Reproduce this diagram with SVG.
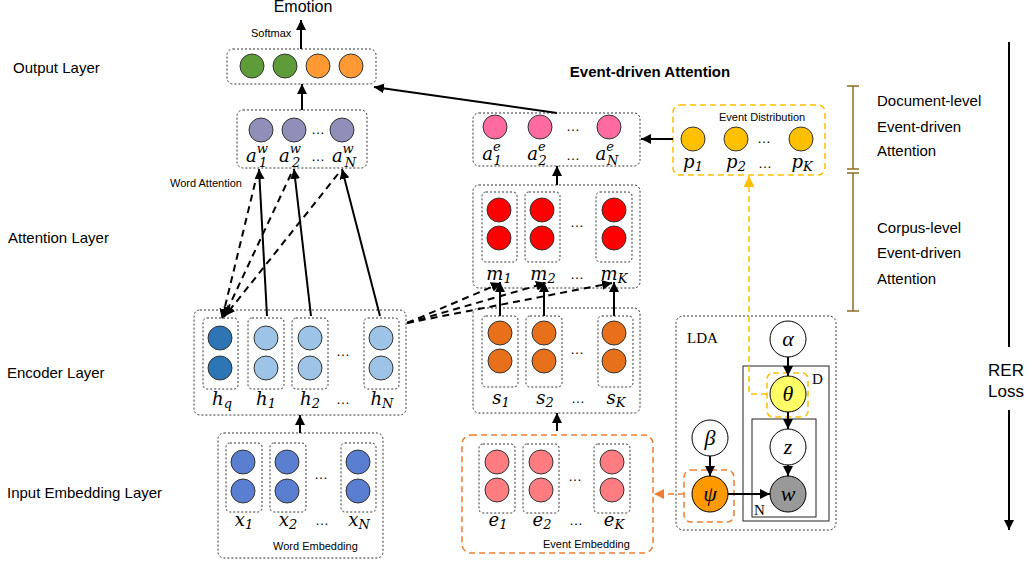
<svg xmlns="http://www.w3.org/2000/svg" width="1032" height="564" viewBox="0 0 1032 564">
<defs>
<style>
.bx{fill:none;stroke:#333;stroke-width:1;stroke-dasharray:2,2}
.c{stroke:#333;stroke-width:1}
.lda{stroke:#000;stroke-width:1}
.ln{stroke:#000;stroke-width:2;fill:none}
.dl{stroke:#000;stroke-width:2;fill:none;stroke-dasharray:7,5}
.sans{font-family:"Liberation Sans",Arial,sans-serif;fill:#000}
.m{font-family:"DejaVu Serif","Liberation Serif",serif;font-style:italic;font-size:18px;fill:#000}
.s{font-size:13px}
.g{font-family:"Liberation Serif","DejaVu Serif",serif;font-style:italic;font-size:22px;fill:#000}
.dots{font-family:"Liberation Sans",Arial,sans-serif;font-size:14px;fill:#000}
.ydash{fill:none;stroke:#FFC000;stroke-width:1.5;stroke-dasharray:6,4}
.odash{fill:none;stroke:#ED7D31;stroke-width:1.5;stroke-dasharray:6,4}
.brk{stroke:#8C6D1F;stroke-width:1.5;fill:none}
</style>
<marker id="ah" viewBox="0 0 10 10" refX="10" refY="5" markerWidth="10" markerHeight="10" markerUnits="userSpaceOnUse" orient="auto"><path d="M0,0 L10,5 L0,10 z" fill="#000"/></marker>
<marker id="ahy" viewBox="0 0 10 10" refX="10" refY="5" markerWidth="11" markerHeight="11" markerUnits="userSpaceOnUse" orient="auto"><path d="M0,0 L10,5 L0,10 z" fill="#FFC000"/></marker>
<marker id="aho" viewBox="0 0 10 10" refX="10" refY="5" markerWidth="10" markerHeight="10" markerUnits="userSpaceOnUse" orient="auto"><path d="M0,0 L10,5 L0,10 z" fill="#ED7D31"/></marker>
</defs>
<rect width="1032" height="564" fill="#fff"/>

<g id="layer-labels" class="sans" font-size="15">
<text x="13" y="73">Output Layer</text>
<text x="8" y="243">Attention Layer</text>
<text x="7" y="378">Encoder Layer</text>
<text x="7" y="498">Input Embedding Layer</text>
</g>

<g id="emotion">
<text class="sans" x="303" y="12" font-size="16" text-anchor="middle">Emotion</text>
<text class="sans" x="251" y="37" font-size="11">Softmax</text>
</g>

<g id="output">
<rect class="bx" x="227" y="49" width="149" height="35" rx="6"/>
<circle class="c" cx="252" cy="66" r="12" fill="#5E9C3A"/>
<circle class="c" cx="285" cy="66" r="12" fill="#5E9C3A"/>
<circle class="c" cx="318" cy="66" r="12" fill="#FF9933"/>
<circle class="c" cx="351" cy="66" r="12" fill="#FF9933"/>
</g>

<g id="word-attention">
<rect class="bx" x="237" y="110" width="130" height="58" rx="6"/>
<circle class="c" cx="261" cy="130" r="12" fill="#8F8FBA"/>
<circle class="c" cx="294" cy="130" r="12" fill="#8F8FBA"/>
<circle class="c" cx="342" cy="130" r="12" fill="#8F8FBA"/>
<text class="dots" x="318" y="134" text-anchor="middle">…</text>
<text class="m" x="257" y="162" text-anchor="middle">a<tspan class="s" dy="-9">w</tspan><tspan class="s" dx="-9" dy="14">1</tspan></text>
<text class="m" x="290" y="162" text-anchor="middle">a<tspan class="s" dy="-9">w</tspan><tspan class="s" dx="-9" dy="14">2</tspan></text>
<text class="dots" x="318" y="161" text-anchor="middle">…</text>
<text class="m" x="344" y="162" text-anchor="middle">a<tspan class="s" dy="-9">w</tspan><tspan class="s" dx="-9" dy="14">N</tspan></text>
<text class="sans" x="170" y="187" font-size="11">Word Attention</text>
</g>

<g id="event-attention">
<text class="sans" x="650" y="77" font-size="15" font-weight="bold" text-anchor="middle">Event-driven Attention</text>
<rect class="bx" x="473" y="113" width="167" height="53" rx="6"/>
<circle class="c" cx="495" cy="127" r="12" fill="#FF6B9E"/>
<circle class="c" cx="540" cy="127" r="12" fill="#FF6B9E"/>
<circle class="c" cx="609" cy="127" r="12" fill="#FF6B9E"/>
<text class="dots" x="573" y="131" text-anchor="middle">…</text>
<text class="m" x="492" y="160" text-anchor="middle">a<tspan class="s" dy="-9">e</tspan><tspan class="s" dx="-7" dy="14">1</tspan></text>
<text class="m" x="537" y="160" text-anchor="middle">a<tspan class="s" dy="-9">e</tspan><tspan class="s" dx="-7" dy="14">2</tspan></text>
<text class="dots" x="573" y="160" text-anchor="middle">…</text>
<text class="m" x="607" y="160" text-anchor="middle">a<tspan class="s" dy="-9">e</tspan><tspan class="s" dx="-7" dy="14">N</tspan></text>
</g>

<g id="event-distribution">
<rect class="ydash" x="673" y="105" width="152" height="70" rx="7"/>
<text class="sans" x="719" y="121" font-size="11">Event Distribution</text>
<circle class="c" cx="693" cy="139" r="12" fill="#FFC000"/>
<circle class="c" cx="736" cy="139" r="12" fill="#FFC000"/>
<circle class="c" cx="801" cy="139" r="12" fill="#FFC000"/>
<text class="dots" x="764" y="143" text-anchor="middle">…</text>
<text class="m" x="693" y="168" text-anchor="middle">p<tspan class="s" dy="3">1</tspan></text>
<text class="m" x="736" y="168" text-anchor="middle">p<tspan class="s" dy="3">2</tspan></text>
<text class="dots" x="765" y="168" text-anchor="middle">…</text>
<text class="m" x="802" y="168" text-anchor="middle">p<tspan class="s" dy="3">K</tspan></text>
</g>

<g id="memory">
<rect class="bx" x="473" y="185" width="167" height="103" rx="6"/>
<rect class="bx" x="482" y="192" width="35" height="70" rx="4"/>
<rect class="bx" x="525" y="192" width="35" height="70" rx="4"/>
<rect class="bx" x="596" y="192" width="36" height="70" rx="4"/>
<circle class="c" cx="499" cy="210" r="12" fill="#FF0000"/>
<circle class="c" cx="499" cy="238" r="12" fill="#FF0000"/>
<circle class="c" cx="542" cy="210" r="12" fill="#FF0000"/>
<circle class="c" cx="542" cy="238" r="12" fill="#FF0000"/>
<circle class="c" cx="614" cy="210" r="12" fill="#FF0000"/>
<circle class="c" cx="614" cy="238" r="12" fill="#FF0000"/>
<text class="dots" x="577" y="227" text-anchor="middle">…</text>
<text class="m" x="499" y="280" text-anchor="middle">m<tspan class="s" dy="3">1</tspan></text>
<text class="m" x="543" y="280" text-anchor="middle">m<tspan class="s" dy="3">2</tspan></text>
<text class="dots" x="577" y="279" text-anchor="middle">…</text>
<text class="m" x="614" y="280" text-anchor="middle">m<tspan class="s" dy="3">K</tspan></text>
</g>

<g id="word-encoder">
<rect class="bx" x="194" y="310" width="212" height="105" rx="6"/>
<rect class="bx" x="203" y="318" width="35" height="71" rx="4"/>
<rect class="bx" x="248" y="318" width="36" height="71" rx="4"/>
<rect class="bx" x="292" y="318" width="36" height="71" rx="4"/>
<rect class="bx" x="364" y="318" width="35" height="71" rx="4"/>
<circle class="c" cx="220" cy="338" r="12" fill="#2E75B6"/>
<circle class="c" cx="220" cy="368" r="12" fill="#2E75B6"/>
<circle class="c" cx="266" cy="338" r="12" fill="#9DC3E6"/>
<circle class="c" cx="266" cy="368" r="12" fill="#9DC3E6"/>
<circle class="c" cx="310" cy="338" r="12" fill="#9DC3E6"/>
<circle class="c" cx="310" cy="368" r="12" fill="#9DC3E6"/>
<circle class="c" cx="381" cy="338" r="12" fill="#9DC3E6"/>
<circle class="c" cx="381" cy="368" r="12" fill="#9DC3E6"/>
<text class="dots" x="343" y="356" text-anchor="middle">…</text>
<text class="m" x="222" y="405" text-anchor="middle">h<tspan class="s" dy="3">q</tspan></text>
<text class="m" x="266" y="405" text-anchor="middle">h<tspan class="s" dy="3">1</tspan></text>
<text class="m" x="310" y="405" text-anchor="middle">h<tspan class="s" dy="3">2</tspan></text>
<text class="dots" x="343" y="404" text-anchor="middle">…</text>
<text class="m" x="382" y="405" text-anchor="middle">h<tspan class="s" dy="3">N</tspan></text>
</g>

<g id="event-encoder">
<rect class="bx" x="473" y="308" width="167" height="105" rx="6"/>
<rect class="bx" x="482" y="316" width="36" height="71" rx="4"/>
<rect class="bx" x="526" y="316" width="36" height="71" rx="4"/>
<rect class="bx" x="598" y="316" width="35" height="71" rx="4"/>
<circle class="c" cx="500" cy="333" r="12" fill="#E8701A"/>
<circle class="c" cx="500" cy="361" r="12" fill="#E8701A"/>
<circle class="c" cx="544" cy="333" r="12" fill="#E8701A"/>
<circle class="c" cx="544" cy="361" r="12" fill="#E8701A"/>
<circle class="c" cx="614" cy="333" r="12" fill="#E8701A"/>
<circle class="c" cx="614" cy="361" r="12" fill="#E8701A"/>
<text class="dots" x="577" y="354" text-anchor="middle">…</text>
<text class="m" x="501" y="404" text-anchor="middle">s<tspan class="s" dy="3">1</tspan></text>
<text class="m" x="545" y="404" text-anchor="middle">s<tspan class="s" dy="3">2</tspan></text>
<text class="dots" x="578" y="403" text-anchor="middle">…</text>
<text class="m" x="616" y="404" text-anchor="middle">s<tspan class="s" dy="3">K</tspan></text>
</g>

<g id="word-embedding">
<rect class="bx" x="218" y="433" width="165" height="125" rx="6"/>
<rect class="bx" x="226" y="443" width="36" height="69" rx="4"/>
<rect class="bx" x="270" y="443" width="36" height="69" rx="4"/>
<rect class="bx" x="341" y="443" width="35" height="69" rx="4"/>
<circle class="c" cx="243" cy="462" r="12" fill="#5A7FD0"/>
<circle class="c" cx="243" cy="491" r="12" fill="#5A7FD0"/>
<circle class="c" cx="287" cy="462" r="12" fill="#5A7FD0"/>
<circle class="c" cx="287" cy="491" r="12" fill="#5A7FD0"/>
<circle class="c" cx="358" cy="462" r="12" fill="#5A7FD0"/>
<circle class="c" cx="358" cy="491" r="12" fill="#5A7FD0"/>
<text class="dots" x="321" y="479" text-anchor="middle">…</text>
<text class="m" x="244" y="526" text-anchor="middle">x<tspan class="s" dy="3">1</tspan></text>
<text class="m" x="288" y="526" text-anchor="middle">x<tspan class="s" dy="3">2</tspan></text>
<text class="dots" x="322" y="525" text-anchor="middle">…</text>
<text class="m" x="359" y="526" text-anchor="middle">x<tspan class="s" dy="3">N</tspan></text>
<text class="sans" x="273" y="550" font-size="11">Word Embedding</text>
</g>

<g id="event-embedding">
<rect class="odash" x="462" y="435" width="191" height="118" rx="9"/>
<rect class="bx" x="479" y="444" width="36" height="69" rx="4"/>
<rect class="bx" x="523" y="444" width="36" height="69" rx="4"/>
<rect class="bx" x="594" y="444" width="36" height="69" rx="4"/>
<circle class="c" cx="497" cy="462" r="12" fill="#FF7C80"/>
<circle class="c" cx="497" cy="490" r="12" fill="#FF7C80"/>
<circle class="c" cx="541" cy="462" r="12" fill="#FF7C80"/>
<circle class="c" cx="541" cy="490" r="12" fill="#FF7C80"/>
<circle class="c" cx="612" cy="462" r="12" fill="#FF7C80"/>
<circle class="c" cx="612" cy="490" r="12" fill="#FF7C80"/>
<text class="dots" x="575" y="481" text-anchor="middle">…</text>
<text class="m" x="498" y="526" text-anchor="middle">e<tspan class="s" dy="3">1</tspan></text>
<text class="m" x="542" y="526" text-anchor="middle">e<tspan class="s" dy="3">2</tspan></text>
<text class="dots" x="576" y="525" text-anchor="middle">…</text>
<text class="m" x="614" y="526" text-anchor="middle">e<tspan class="s" dy="3">K</tspan></text>
<text class="sans" x="543" y="548" font-size="11">Event Embedding</text>
</g>

<g id="lda">
<rect class="bx" x="676" y="316" width="160" height="214" rx="7"/>
<text x="687" y="343" font-family="'Liberation Serif',serif" font-size="15">LDA</text>
<rect x="743" y="366" width="86" height="155" fill="none" stroke="#222" stroke-width="1"/>
<text x="812" y="384" font-family="'Liberation Serif',serif" font-size="15">D</text>
<rect x="752" y="419" width="64" height="98" fill="none" stroke="#222" stroke-width="1"/>
<text x="754" y="515" font-family="'Liberation Serif',serif" font-size="15">N</text>
<rect class="ydash" x="767" y="373" width="41" height="44" rx="6"/>
<rect class="odash" x="684" y="470" width="50" height="52" rx="7"/>
<g id="alpha"><circle class="lda" cx="788" cy="339" r="18" fill="#fff"/><text class="g" x="788" y="346" text-anchor="middle">α</text></g>
<g id="theta"><circle class="lda" cx="788" cy="394" r="18" fill="#FFFF66"/><text class="g" x="788" y="401" text-anchor="middle">θ</text></g>
<g id="z"><circle class="lda" cx="788" cy="447" r="18" fill="#fff"/><text class="g" x="788" y="454" text-anchor="middle">z</text></g>
<g id="w"><circle class="lda" cx="788" cy="494" r="18" fill="#999"/><text class="g" x="788" y="501" text-anchor="middle">w</text></g>
<g id="beta"><circle class="lda" cx="710" cy="438" r="18" fill="#fff"/><text class="g" x="710" y="445" text-anchor="middle">β</text></g>
<g id="psi"><circle class="lda" cx="710" cy="494" r="18" fill="#FF9900"/><text class="g" x="710" y="501" text-anchor="middle">ψ</text></g>
</g>

<g id="levels">
<path class="brk" d="M853,86 V169 M847,86 H859 M847,169 H859 M853,173 V311 M847,173 H859 M847,311 H859"/>
<g class="sans" font-size="15">
<text x="877" y="106">Document-level</text>
<text x="877" y="132">Event-driven</text>
<text x="877" y="156">Attention</text>
<text x="877" y="233">Corpus-level</text>
<text x="877" y="258">Event-driven</text>
<text x="877" y="284">Attention</text>
</g>
</g>

<g id="rer-loss">
<text class="sans" x="1006" y="376" font-size="17" text-anchor="middle">RER</text>
<text class="sans" x="1006" y="397" font-size="17" text-anchor="middle">Loss</text>
</g>

<g id="connectors">
<line class="ln" x1="301" y1="49" x2="301" y2="20" marker-end="url(#ah)"/>
<line class="ln" x1="302" y1="110" x2="302" y2="84" marker-end="url(#ah)"/>
<line class="ln" x1="557" y1="113" x2="374" y2="87" marker-end="url(#ah)"/>
<line class="ln" x1="673" y1="139" x2="641" y2="139" marker-end="url(#ah)"/>
<line class="ln" x1="557" y1="185" x2="557" y2="166" marker-end="url(#ah)"/>
<line class="ln" x1="300" y1="433" x2="300" y2="415" marker-end="url(#ah)"/>
<line class="ln" x1="557" y1="431" x2="557" y2="413" marker-end="url(#ah)"/>
<line class="ln" x1="267" y1="316" x2="259" y2="169" marker-end="url(#ah)"/>
<line class="ln" x1="311" y1="316" x2="294" y2="169" marker-end="url(#ah)"/>
<line class="ln" x1="380" y1="316" x2="342" y2="169" marker-end="url(#ah)"/>
<line class="dl" x1="255" y1="183" x2="222" y2="319" marker-end="url(#ah)"/>
<line class="dl" x1="291" y1="174" x2="224" y2="317" marker-end="url(#ah)"/>
<line class="dl" x1="338" y1="174" x2="225" y2="316" marker-end="url(#ah)"/>
<line class="ln" x1="500" y1="316" x2="500" y2="282" marker-end="url(#ah)"/>
<line class="ln" x1="544" y1="316" x2="544" y2="282" marker-end="url(#ah)"/>
<line class="ln" x1="614" y1="316" x2="614" y2="282" marker-end="url(#ah)"/>
<line class="dl" x1="407" y1="323" x2="501" y2="283" marker-end="url(#ah)"/>
<line class="dl" x1="407" y1="323" x2="546" y2="283" marker-end="url(#ah)"/>
<line class="dl" x1="407" y1="323" x2="612" y2="283" marker-end="url(#ah)"/>
<line class="ln" stroke-width="1.5" x1="788" y1="357" x2="788" y2="376" marker-end="url(#ah)"/>
<line class="ln" stroke-width="1.5" x1="788" y1="412" x2="788" y2="429" marker-end="url(#ah)"/>
<line class="ln" stroke-width="1.5" x1="788" y1="465" x2="788" y2="476" marker-end="url(#ah)"/>
<line class="ln" stroke-width="1.5" x1="710" y1="456" x2="710" y2="476" marker-end="url(#ah)"/>
<line class="ln" stroke-width="1.5" x1="728" y1="494" x2="770" y2="494" marker-end="url(#ah)"/>
<path class="ydash" d="M767,394 H749 V176" marker-end="url(#ahy)"/>
<line class="odash" x1="684" y1="494" x2="654" y2="494" marker-end="url(#aho)"/>
<line class="ln" x1="1009" y1="42" x2="1009" y2="347"/>
<line class="ln" x1="1009" y1="410" x2="1009" y2="530" marker-end="url(#ah)"/>
</g>
</svg>
